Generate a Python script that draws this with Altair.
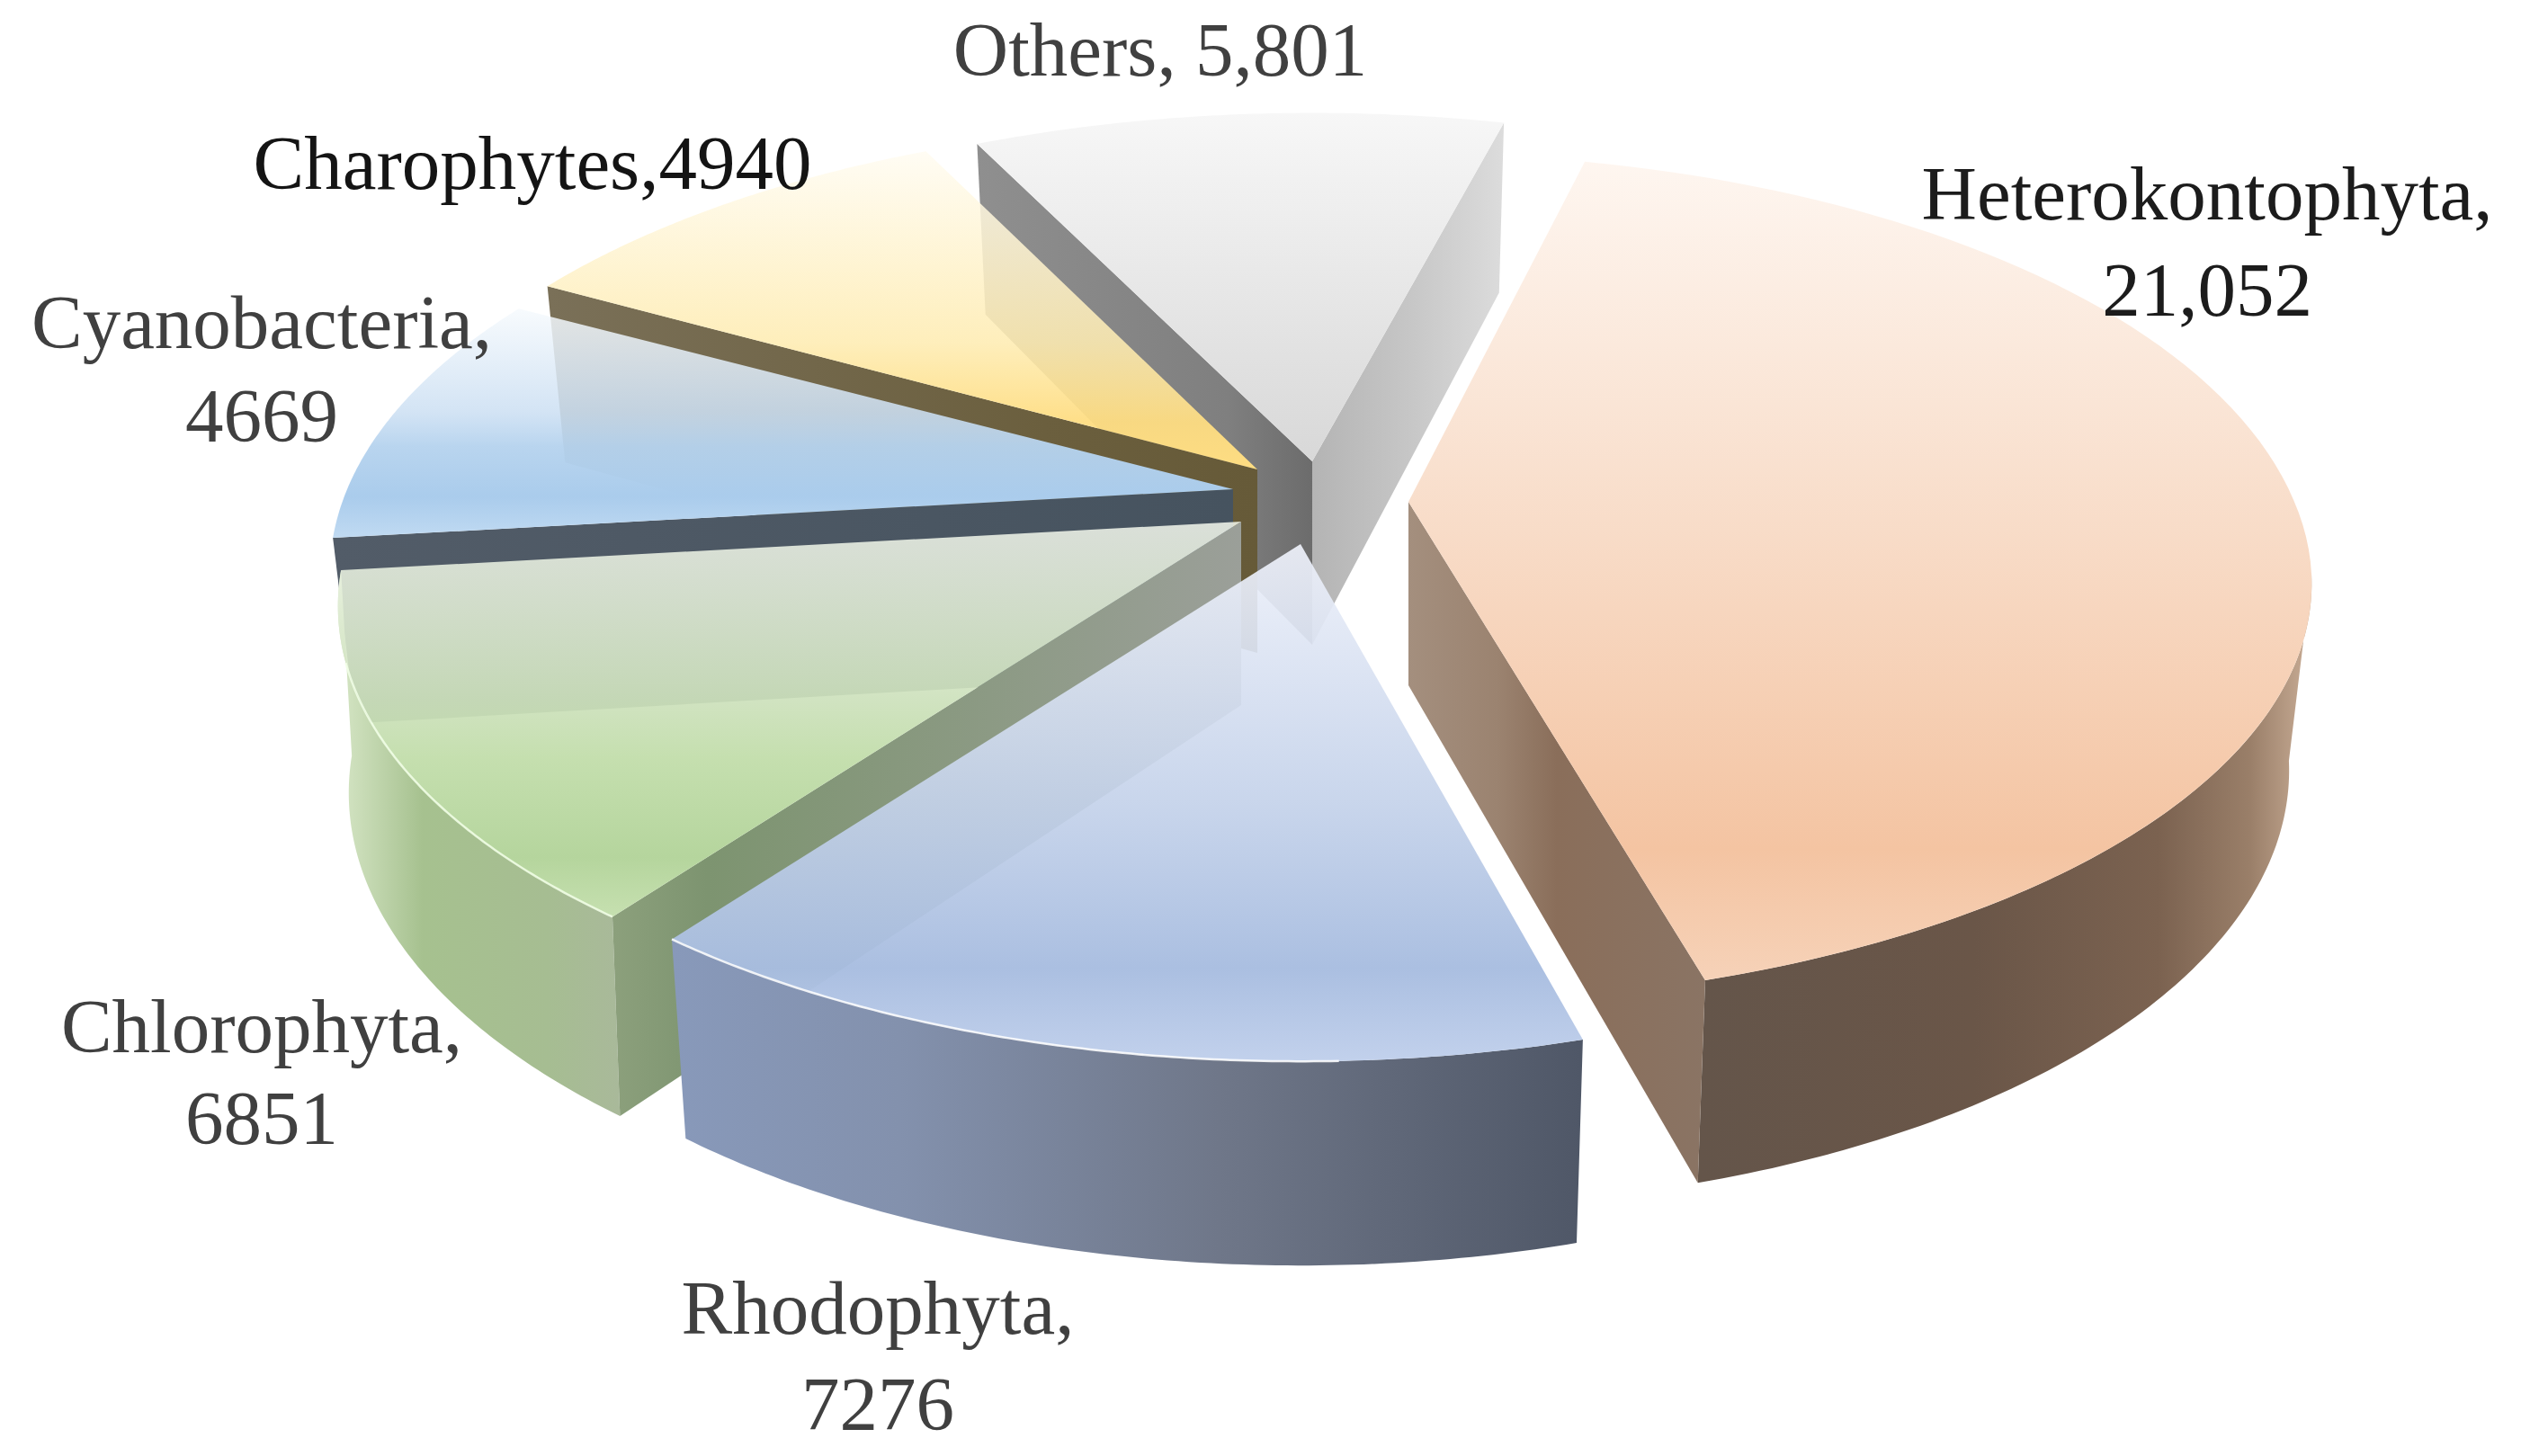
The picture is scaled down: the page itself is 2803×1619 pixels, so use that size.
import numpy as np
import pandas as pd
import altair as alt

# ---- data ----
categories = ["Heterokontophyta", "Rhodophyta", "Chlorophyta", "Cyanobacteria", "Charophytes", "Others"]
values = [21052, 7276, 6851, 4669, 4940, 5801]

label_lines = ["Heterokontophyta,", "21,052", "Rhodophyta,", "7276", "Chlorophyta,", "6851",
               "Cyanobacteria,", "4669", "Charophytes,4940", "Others, 5,801"]
label_x = [2454, 2454, 976, 976, 291, 291, 291, 291, 592, 1290]
label_y = [218, 325, 1457, 1564, 1144, 1246, 361, 465, 184, 58]
label_color = ["#1c1c1c", "#1c1c1c", "#404040", "#404040", "#404040", "#404040",
               "#404040", "#404040", "#141414", "#404040"]

# ---- layout of the exploded, tilted pie ----
apex = {"Heterokontophyta": (1566, 558), "Rhodophyta": (1446, 605), "Chlorophyta": (1380, 580),
        "Cyanobacteria": (1371, 544), "Charophytes": (1398, 522), "Others": (1459, 513)}
# perspective makes each exploded slice turn a little: degrees added to its two edges
nudge = {"Heterokontophyta": (0.0, 0.7), "Rhodophyta": (1.5, 1.5), "Chlorophyta": (1.5, -0.6),
         "Cyanobacteria": (-0.6, 1.0), "Charophytes": (1.5, 1.5), "Others": (1.2, 1.2)}
bottom_shrink = {"Heterokontophyta": 0.975, "Rhodophyta": 0.978, "Chlorophyta": 0.988,
                 "Cyanobacteria": 0.975, "Charophytes": 0.975, "Others": 0.975}
front_scale = {"Heterokontophyta": 0.97, "Rhodophyta": 1.0, "Chlorophyta": 1.0,
               "Cyanobacteria": 1.0, "Charophytes": 1.0, "Others": 1.0}
START = 13.7        # clockwise from top, degrees
RX, RY, PERSP = 985, 463, 0.195
DEPTH, BY = 204, 1.04

total = sum(values)
bounds = {}
a = START
for c, v in zip(categories, values):
    b = a + 360 * v / total
    bounds[c] = (a + nudge[c][0], b + nudge[c][1])
    a = b


def top_xy(theta, c):
    t = np.radians(theta)
    u, v = np.sin(t), -np.cos(t)
    d = 1 - PERSP * v
    y = RY * v / d
    return RX * u / d, y * front_scale[c] if y > 0 else y


def bottom_xy(theta, c):
    x, y = top_xy(theta, c)
    return x * bottom_shrink[c], DEPTH + y * BY


def frame(c, pts):
    ax, ay = apex[c]
    return pd.DataFrame({"x": [ax + p[0] for p in pts], "y": [ay + p[1] for p in pts], "i": range(len(pts))})


def arc(f, c, t0, t1, n=90):
    return [f(t, c) for t in np.linspace(t0, t1, n)]


X = alt.X("x:Q", scale=alt.Scale(domain=[8, 2795], nice=False, zero=False), axis=None)
Y = alt.Y("y:Q", scale=alt.Scale(domain=[1611, 8], nice=False, zero=False), axis=None)


def poly(df, fill):
    return alt.Chart(df).mark_line(fill=fill, strokeWidth=0, strokeOpacity=0, clip=False).encode(
        x=X, y=Y, order=alt.Order("i:Q"))


def vgrad(stops):
    return alt.Gradient(gradient="linear", x1=0, y1=0, x2=0, y2=1,
                        stops=[alt.GradientStop(offset=o, color=col) for o, col in stops])


def hgrad(stops):
    return alt.Gradient(gradient="linear", x1=0, y1=0, x2=1, y2=0,
                        stops=[alt.GradientStop(offset=o, color=col) for o, col in stops])


def radial_wall(c, theta, stops):
    pts = [(0, 0), top_xy(theta, c), bottom_xy(theta, c), (0, DEPTH)]
    return poly(frame(c, pts), hgrad(stops))


def outer_wall(c, t0, t1, stops):
    pts = arc(top_xy, c, t0, t1) + arc(bottom_xy, c, t1, t0)
    return poly(frame(c, pts), hgrad(stops))


def top_face(c, stops):
    t0, t1 = bounds[c]
    pts = [(0, 0)] + arc(top_xy, c, t0, t1)
    return poly(frame(c, pts), vgrad(stops))


def rim(c, t0, t1, color, width):
    df = frame(c, arc(top_xy, c, t0, t1))
    return alt.Chart(df).mark_line(stroke=color, strokeWidth=width, strokeOpacity=0.85).encode(
        x=X, y=Y, order=alt.Order("i:Q"))


def rgba(r, g, b, al):
    return f"rgba({r},{g},{b},{al})"


layers = []

# Others
t0, t1 = bounds["Others"]
layers += [
    radial_wall("Others", t0, [(0, "#8f8f8f"), (0.75, "#7f7f7f"), (1, "#6c6c6c")]),
    radial_wall("Others", t1, [(0, "#b4b4b4"), (0.5, "#c6c6c6"), (1, "#dcdcdc")]),
    top_face("Others", [(0, "#f7f7f7"), (0.7, "#e1e1e1"), (1, "#d8d8d8")]),
]
# Charophytes
t0, t1 = bounds["Charophytes"]
layers += [
    radial_wall("Charophytes", t0, [(0, "#7a7058"), (0.7, "#6b5f3e"), (1, "#665a38")]),
    top_face("Charophytes", [(0, rgba(255, 252, 242, 0.86)), (0.6, rgba(254, 236, 178, 0.88)),
                             (0.85, rgba(254, 221, 130, 0.95)), (1, rgba(254, 221, 130, 1))]),
]
# Cyanobacteria
t0, t1 = bounds["Cyanobacteria"]
layers += [
    radial_wall("Cyanobacteria", t0, [(0, "#525c68"), (1, "#46535f")]),
    top_face("Cyanobacteria", [(0, rgba(246, 250, 253, 0.85)), (0.45, rgba(205, 224, 243, 0.88)),
                               (0.6, rgba(182, 211, 238, 0.96)), (0.82, rgba(170, 204, 236, 1)),
                               (1, rgba(192, 218, 242, 1))]),
]
# Chlorophyta
t0, t1 = bounds["Chlorophyta"]
layers += [
    outer_wall("Chlorophyta", t0, t1, [(0, "#d6e6c6"), (0.3, "#a6c18f"), (0.75, "#a6bd92"), (1, "#a9b99a")]),
    radial_wall("Chlorophyta", t0, [(0, "#8ca07c"), (0.15, "#7d9470"), (0.6, "#8c9a84"), (1, "#9b9f99")]),
    top_face("Chlorophyta", [(0, rgba(244, 248, 238, 0.85)), (0.45, rgba(205, 225, 188, 0.93)),
                             (0.6, rgba(195, 222, 172, 0.97)), (0.85, rgba(181, 213, 157, 1)),
                             (1, rgba(198, 224, 176, 1))]),
    rim("Chlorophyta", t0, t1 - 12, "#f2ffe8", 2.5),
]
# Heterokontophyta
t0, t1 = bounds["Heterokontophyta"]
layers += [
    outer_wall("Heterokontophyta", 100, t1, [(0, "#64554a"), (0.45, "#6a5648"), (0.75, "#7b6250"), (0.9, "#9a7f69"), (1, "#c9ad96")]),
    radial_wall("Heterokontophyta", t1, [(0, "#a48f7e"), (0.3, "#9b8370"), (0.5, "#8a6e5a"), (1, "#8a7464")]),
    top_face("Heterokontophyta", [(0, "#fef6f0"), (0.45, "#f8dcc8"), (0.84, "#f4c4a2"), (1, "#f6d2b8")]),
]
# Rhodophyta
t0, t1 = bounds["Rhodophyta"]
layers += [
    outer_wall("Rhodophyta", t0, t1, [(0, "#8899ba"), (0.25, "#8391ad"), (0.6, "#6f7789"), (1, "#4f5767")]),
    top_face("Rhodophyta", [(0, rgba(238, 241, 250, 0.93)), (0.5, rgba(196, 210, 234, 0.92)),
                            (0.82, rgba(168, 189, 224, 0.97)), (1, rgba(194, 209, 236, 1))]),
    rim("Rhodophyta", 178, t1, "#ffffff", 2.5),
]

labels = pd.DataFrame({"t": label_lines, "x": label_x, "y": label_y, "c": label_color})
text = alt.Chart(labels).mark_text(font="Liberation Serif", fontSize=85, align="center", baseline="middle").encode(
    x=X, y=Y, text="t:N", color=alt.Color("c:N", scale=None))

chart = alt.layer(*layers, text).properties(
    width=2787, height=1603, padding=0, autosize=alt.AutoSizeParams(type="none")
).configure_view(strokeWidth=0)

chart.save("out.html", embed_options={"renderer": "svg", "actions": False})
